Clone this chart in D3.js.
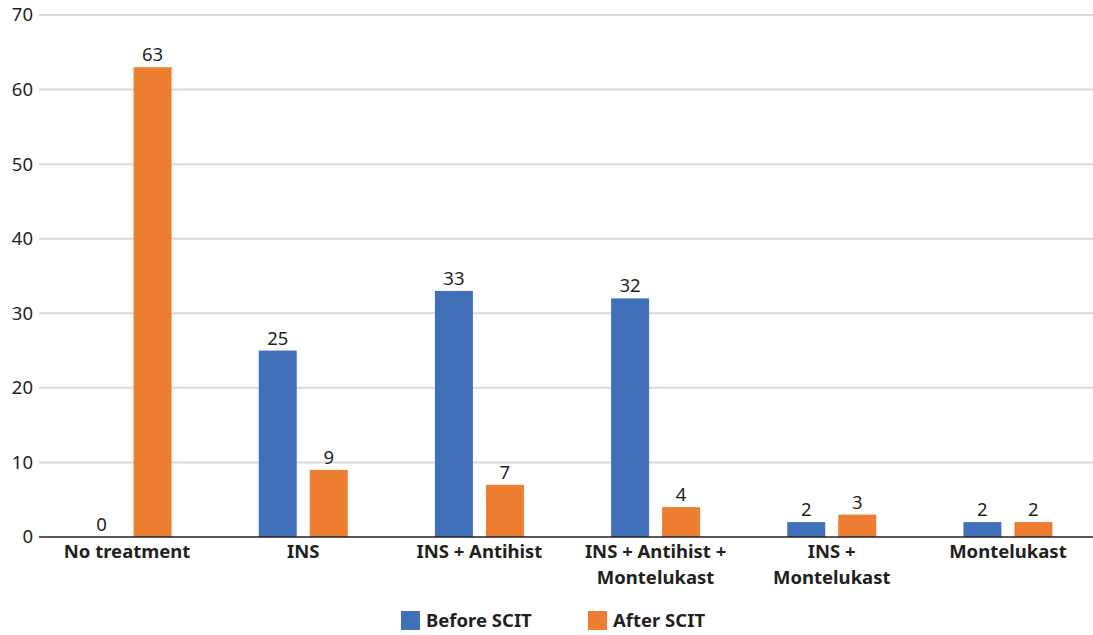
<!DOCTYPE html>
<html>
<head>
<meta charset="utf-8">
<script src="https://cdn.jsdelivr.net/npm/d3@7"></script>
<style>
  body { margin: 0; background: #fff; }
  svg { display: block; }
  text { font-family: "Noto Sans", "Open Sans", sans-serif; fill: #231f20; }
</style>
</head>
<body>
<svg id="chart" width="1093" height="635"></svg>
<script>
// Treatment groups (label lines) and patient counts before/after SCIT
const categories = [
  ["No treatment"],
  ["INS"],
  ["INS + Antihist"],
  ["INS + Antihist +", "Montelukast"],
  ["INS +", "Montelukast"],
  ["Montelukast"]
];
const beforeSCIT = [0, 25, 33, 32, 2, 2];
const afterSCIT = [63, 9, 7, 4, 3, 2];
const seriesNames = ["Before SCIT", "After SCIT"];
const seriesColors = ["#4270b8", "#ed7d31"];
const yTicks = [0, 10, 20, 30, 40, 50, 60, 70];

(function draw() {
  const svg = d3.select("#chart");
  const plotLeft = 39, plotRight = 1096, plotTop = 15, plotBottom = 537;
  const groupWidth = 89;

  const x = d3.scaleBand().domain(d3.range(categories.length)).range([plotLeft, plotRight]);
  const y = d3.scaleLinear().domain([0, 70]).range([plotBottom, plotTop]);
  const inner = d3.scaleBand().domain([0, 1]).range([0, groupWidth]).paddingInner(0.255);
  const groupOffset = (x.bandwidth() - groupWidth) / 2;

  // Horizontal gridlines
  svg.append("g").selectAll("line").data(yTicks.slice(1)).join("line")
    .attr("x1", plotLeft).attr("x2", 1093)
    .attr("y1", d => y(d)).attr("y2", d => y(d))
    .attr("stroke", "#d9d9d9").attr("stroke-width", 2);

  // Y axis tick labels
  const yAxis = d3.axisLeft(y).tickValues(yTicks).tickSize(0).tickPadding(6);
  const yg = svg.append("g").attr("transform", `translate(${plotLeft},0)`).call(yAxis);
  yg.select(".domain").remove();
  yg.selectAll("text").style("font-size", "18.5px").attr("fill", "#231f20")
    .style("font-family", '"Noto Sans", sans-serif');

  const series = [beforeSCIT, afterSCIT];
  series.forEach((vals, s) => {
    const g = svg.append("g");
    g.selectAll("rect").data(vals).join("rect")
      .attr("x", (d, i) => x(i) + groupOffset + inner(s))
      .attr("width", inner.bandwidth())
      .attr("y", d => y(d))
      .attr("height", d => y(0) - y(d))
      .attr("fill", seriesColors[s]);
    g.selectAll("text").data(vals).join("text")
      .attr("x", (d, i) => x(i) + groupOffset + inner(s) + inner.bandwidth() / 2)
      .attr("y", d => y(d) - 6)
      .attr("text-anchor", "middle")
      .style("font-size", "18.5px")
      .text(d => d);
  });

  // Baseline
  svg.append("line").attr("x1", plotLeft).attr("x2", 1093)
    .attr("y1", y(0)).attr("y2", y(0))
    .attr("stroke", "#231f20").attr("stroke-width", 1.5);

  // Category labels
  const cat = svg.append("g").selectAll("text").data(categories).join("text")
    .attr("text-anchor", "middle")
    .style("font-size", "18.5px").style("font-weight", "bold");
  cat.each(function(lines, i) {
    d3.select(this).selectAll("tspan").data(lines).join("tspan")
      .attr("x", x(i) + x.bandwidth() / 2)
      .attr("y", (d, j) => 558 + j * 26)
      .text(d => d);
  });

  // Legend
  const legendX = [401, 588];
  const leg = svg.append("g").selectAll("g").data(seriesNames).join("g")
    .attr("transform", (d, i) => `translate(${legendX[i]},611)`);
  leg.append("rect").attr("width", 19).attr("height", 19).attr("fill", (d, i) => seriesColors[i]);
  leg.append("text").attr("x", 25).attr("y", 16)
    .style("font-size", "18.5px").style("font-weight", "bold").text(d => d);
})();
</script>
</body>
</html>
